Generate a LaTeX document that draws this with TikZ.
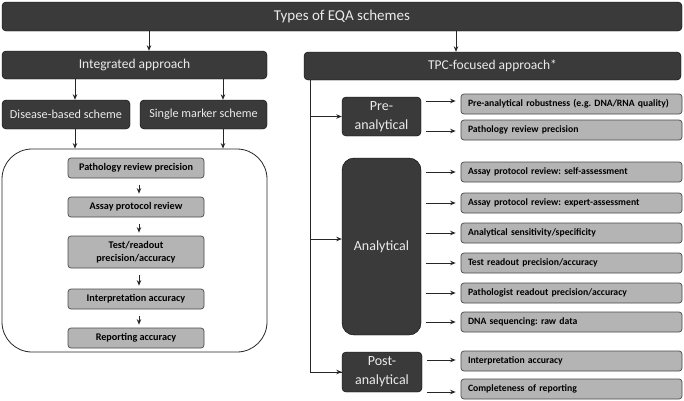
\documentclass[tikz,border=0pt]{standalone}
\usepackage{fontspec}
\setmainfont{Carlito}
\frenchspacing
\usetikzlibrary{arrows.meta}
\definecolor{darkbox}{HTML}{3A3A3A}
\definecolor{graybox}{HTML}{B4B4B4}
\definecolor{edgegray}{HTML}{4A4A4A}
\tikzset{
  darkb/.style={draw=black, fill=darkbox, rounded corners=4pt, text=white!92!black, inner sep=0pt, align=center, font=\fontsize{13.5}{15}\selectfont},
  grayb/.style={draw=edgegray, line width=0.7pt, fill=graybox, rounded corners=3pt, inner sep=0pt, align=center},
  ritem/.style={grayb, minimum width=221pt, minimum height=20pt, text width=207pt, align=left, font=\bfseries\fontsize{9.7}{11.5}\selectfont},
  litem/.style={grayb, minimum width=136pt, minimum height=20pt, font=\bfseries\fontsize{10.2}{12.5}\selectfont},
  arr/.style={draw=black!85, line width=0.9pt, -{Stealth[length=5.5pt,width=4.5pt]}},
}
\begin{document}
\begin{tikzpicture}[x=1pt,y=-1pt]
\useasboundingbox (0,0) rectangle (684,400);
\fill[white] (0,0) rectangle (684,400);

% top level
\node[darkb, minimum width=680pt, minimum height=29pt, font=\fontsize{15}{17}\selectfont] (top) at (342,16.5) {Types of EQA schemes};
\node[darkb, minimum width=265pt, minimum height=28pt] (int) at (134.5,65) {Integrated approach};
\node[darkb, minimum width=377pt, minimum height=28pt] (tpc) at (492.5,66) {TPC-focused approach*};
\draw[arr] ([xshift=14.5pt]int.north |- top.south) -- ([xshift=14.5pt]int.north);
\draw[arr] ([xshift=-36.5pt]tpc.north |- top.south) -- ([xshift=-36.5pt]tpc.north);

% integrated branch
\node[darkb, minimum width=128pt, minimum height=29pt, font=\fontsize{12.2}{14}\selectfont] (dis) at (66,114.5) {Disease-based scheme};
\node[darkb, minimum width=127pt, minimum height=29pt, font=\fontsize{12.2}{14}\selectfont] (sin) at (203.5,114.5) {Single marker scheme};
\draw[arr] ([xshift=9pt]dis.north |- int.south) -- ([xshift=9pt]dis.north);
\draw[arr] ([xshift=19.5pt]sin.north |- int.south) -- ([xshift=19.5pt]sin.north);

\node[draw=black!85, line width=0.8pt, rounded corners=30pt, minimum width=265pt, minimum height=203pt, inner sep=0pt] (big) at (134.5,250.5) {};
\draw[arr] ([xshift=9pt]dis.south) -- ([xshift=9pt]dis.south |- big.north);
\draw[arr] ([xshift=19.5pt]sin.south) -- ([xshift=19.5pt]sin.south |- big.north);

\node[litem] (l1) at (136,168) {Pathology review precision};
\node[litem] (l2) at (136,207) {Assay protocol review};
\node[litem, minimum height=32pt] (l3) at (136,252) {Test/readout\\precision/accuracy};
\node[litem] (l4) at (136,299) {Interpretation accuracy};
\node[litem] (l5) at (136,338) {Reporting accuracy};
\foreach \a/\b in {l1/l2,l2/l3,l3/l4,l4/l5}{
  \draw[arr, shorten <=7pt, shorten >=3pt] ([xshift=3pt]\a.south) -- ([xshift=3pt]\b.north);
}

% TPC branch
\node[darkb, minimum width=79pt, minimum height=39pt, font=\fontsize{14}{19}\selectfont] (pre) at (381.5,116.5) {Pre-\\analytical};
\node[darkb, minimum width=79pt, minimum height=177pt, font=\fontsize{14}{19}\selectfont, rounded corners=12pt] (ana) at (381.5,246.5) {Analytical};
\node[darkb, minimum width=80pt, minimum height=40pt, font=\fontsize{14}{19}\selectfont] (post) at (382,372) {Post-\\analytical};

\coordinate (vtop) at ([xshift=-182.5pt]tpc.south);
\draw[draw=black!85, line width=0.9pt] (vtop) |- (post.west);
\draw[arr] (vtop |- post.west) -- (post.west);
\draw[arr] (vtop |- pre.west) -- (pre.west);
\draw[arr] (vtop |- 0,239) -- (ana.west |- 0,239);

\node[ritem] (r1) at (571.5,104) {Pre-analytical robustness (e.g. DNA/RNA quality)};
\node[ritem] (r2) at (571.5,130) {Pathology review precision};
\node[ritem] (r3) at (571.5,172) {Assay protocol review: self-assessment};
\node[ritem] (r4) at (571.5,203) {Assay protocol review: expert-assessment};
\node[ritem] (r5) at (571.5,233) {Analytical sensitivity/specificity};
\node[ritem] (r6) at (571.5,263) {Test readout precision/accuracy};
\node[ritem] (r7) at (571.5,293) {Pathologist readout precision/accuracy};
\node[ritem] (r8) at (571.5,322) {DNA sequencing: raw data};
\node[ritem] (r9) at (571.5,361) {Interpretation accuracy};
\node[ritem] (r10) at (571.5,389) {Completeness of reporting};

\foreach \n/\d in {r1/3,r2/-1}{
  \draw[arr, shorten <=5pt, shorten >=5pt] ([yshift=\d pt]pre.east |- \n.west) -- ([yshift=\d pt]\n.west);
}
\foreach \n in {r3,r4,r5,r6,r7,r8}{
  \draw[arr, shorten <=5pt, shorten >=5pt] (ana.east |- \n.west) -- (\n.west);
}
\foreach \n/\d in {r9/1,r10/-3}{
  \draw[arr, shorten <=5pt, shorten >=5pt] ([yshift=\d pt]post.east |- \n.west) -- ([yshift=\d pt]\n.west);
}
\end{tikzpicture}
\end{document}
